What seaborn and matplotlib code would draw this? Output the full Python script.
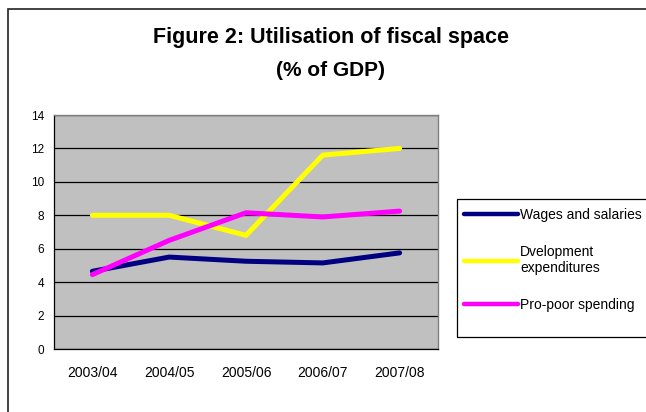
import matplotlib
matplotlib.use("Agg")
import matplotlib.pyplot as plt
import pandas as pd
import seaborn as sns
from matplotlib.patches import Rectangle
from matplotlib.ticker import FixedLocator

years = ["2003/04", "2004/05", "2005/06", "2006/07", "2007/08"]
wages = [4.65, 5.5, 5.25, 5.15, 5.75]
development = [8.0, 8.0, 6.8, 11.6, 12.0]
pro_poor = [4.45, 6.5, 8.15, 7.9, 8.25]
series_names = ["Wages and salaries", "Dvelopment\nexpenditures", "Pro-poor spending"]
series_colors = ["#000080", "#FFFF00", "#FF00FF"]

df = pd.DataFrame({"year": years * 3,
                   "value": wages + development + pro_poor,
                   "series": [n for n in series_names for _ in years]})
df["pos"] = [i for _ in series_names for i in range(len(years))]

sns.set_theme(style="white")
plt.rcParams["font.family"] = ["Liberation Sans", "DejaVu Sans"]
plt.rcParams["text.color"] = "black"
plt.rcParams["xtick.color"] = "black"
plt.rcParams["ytick.color"] = "black"

fig = plt.figure(figsize=(6.46, 4.12), dpi=100)
W, H = 646, 412
ax = fig.add_axes([54 / W, 1 - 349 / H, (438 - 54) / W, (349 - 115) / H])
ax.set_facecolor("#C0C0C0")

sns.lineplot(data=df, x="pos", y="value", hue="series", palette=series_colors,
             hue_order=series_names, linewidth=3.6, ax=ax, legend=False)

ax.set_xlim(-0.5, len(years) - 0.5)
ax.set_ylim(0, 14)
ax.set_yticks(range(0, 15, 2))
ax.yaxis.grid(True, color="black", linewidth=0.9)
ax.set_axisbelow(True)
ax.set_xticks(range(len(years)))
ax.set_xticklabels(years, fontsize=10)
ax.xaxis.set_minor_locator(FixedLocator([i - 0.5 for i in range(len(years) + 1)]))
ax.tick_params(axis="x", which="major", length=0, pad=12)
ax.tick_params(axis="x", which="minor", length=4, width=0.8, color="black", direction="out")
ax.tick_params(axis="y", length=4, width=0.8, color="black", direction="out", labelsize=8.5, pad=3)
ax.set_xlabel("")
ax.set_ylabel("")
for side in ["top", "right"]:
    ax.spines[side].set_color("#808080")
    ax.spines[side].set_linewidth(1.0)
for side in ["left", "bottom"]:
    ax.spines[side].set_color("black")
    ax.spines[side].set_linewidth(0.9)

fig.text(331 / W, 1 - 38 / H, "Figure 2: Utilisation of fiscal space",
         ha="center", va="center", fontsize=15.5, fontweight="bold")
fig.text(331 / W, 1 - 70 / H, "(% of GDP)",
         ha="center", va="center", fontsize=15, fontweight="bold")

# outer chart frame (cut at right/bottom edge)
fig.add_artist(Rectangle((8 / W, -0.1), 1.0, 1.1 - 9 / H, transform=fig.transFigure,
                         fill=False, edgecolor="#222222", linewidth=1.2))
# legend frame
fig.add_artist(Rectangle((457 / W, 1 - 337 / H), 0.5, (337 - 199) / H,
                         transform=fig.transFigure, fill=False, edgecolor="black",
                         linewidth=0.9))

handles = [plt.Line2D([], [], color=c, linewidth=3.2, solid_capstyle="round")
           for c in series_colors]
fig.legend(handles, series_names, loc="upper left", bbox_to_anchor=(464 / W, 1 - 208 / H),
           frameon=False, fontsize=10, handlelength=3.9, handletextpad=0.15,
           labelspacing=1.65, borderaxespad=0, borderpad=0)

fig.savefig("out.png", dpi=100, facecolor="white")
